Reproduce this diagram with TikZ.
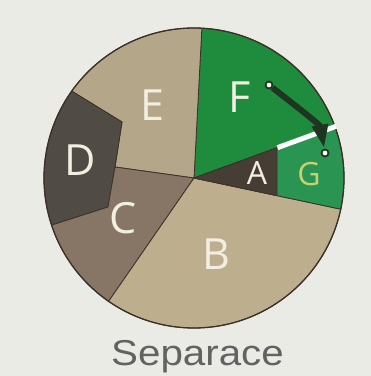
\documentclass[tikz,border=0pt]{standalone}
\usepackage{fontspec}
\newfontfamily\labfont{Open Sans}
\newfontfamily\sepfont{Liberation Sans}
\usetikzlibrary{arrows.meta}
\definecolor{bgc}{HTML}{EBEBE6}
\definecolor{colE}{HTML}{B4A688}
\definecolor{colB}{HTML}{BDAE8E}
\definecolor{colC}{HTML}{877565}
\definecolor{colD}{HTML}{504B44}
\definecolor{colA}{HTML}{463E34}
\definecolor{colF}{HTML}{1F8B3D}
\definecolor{colG}{HTML}{2A9452}
\definecolor{edgec}{HTML}{3B3128}
\definecolor{labc}{HTML}{F2EFE2}
\definecolor{glab}{HTML}{C8D070}
\definecolor{arrowc}{HTML}{1E3522}
\definecolor{sepc}{HTML}{626262}
\pgfdeclarelayer{front}
\pgfsetlayers{main,front}
\tikzset{
  region/.style={draw=edgec, line width=0.8pt, line join=round},
  outline/.style={draw=edgec, line width=1.3pt},
  lab/.style={text=labc, font=\labfont\fontsize{43}{43}\selectfont, inner sep=0pt},
  smalllab/.style={text=labc, font=\labfont\fontsize{32}{32}\selectfont, inner sep=0pt},
  dotnode/.style={circle, fill=white, draw=arrowc, line width=1.8pt, minimum size=7pt, inner sep=0pt},
  movearrow/.style={draw=arrowc, line width=6pt, -{Triangle[length=24pt,width=15pt]}}
}
\begin{document}
\begin{tikzpicture}[x=1pt,y=1pt]
\fill[bgc] (0,0) rectangle (371,376);
\useasboundingbox (0,0) rectangle (371,376);
\begin{scope}[shift={(194,198)}]
\def\R{150}
\filldraw[fill=colF, region] (0,0) -- (20:\R) arc[start angle=20,end angle=87,radius=\R] -- cycle;
\filldraw[fill=colE, region] (0,0) -- (87:\R) arc[start angle=87,end angle=144.6,radius=\R] -- (-72,56) -- (-79,11) -- cycle;
\filldraw[fill=colD, region] (144.6:\R) arc[start angle=144.6,end angle=198.3,radius=\R] -- (-86,-29) -- (-79,11) -- (-72,56) -- cycle;
\filldraw[fill=colC, region] (0,0) -- (-79,11) -- (-86,-29) -- (198.3:\R) arc[start angle=198.3,end angle=235.3,radius=\R] -- cycle;
\filldraw[fill=colB, region] (0,0) -- (235.3:\R) arc[start angle=235.3,end angle=348,radius=\R] -- cycle;
\filldraw[fill=colG, region] (0,0) -- (-12:\R) arc[start angle=-12,end angle=20,radius=\R] -- cycle;
\filldraw[fill=colA, region] (0,0) -- (83,30.2) -- (83,-17.6) -- cycle;
\draw[outline] (0,0) circle[radius=\R];
\begin{scope}
\clip (0,0) circle[radius=151];
\draw[white, line width=5pt] (83.4,30.3) -- (20:154);
\end{scope}
\end{scope}
\node[lab] (lE) at (152,271) {E};
\node[lab] (lD) at (80,216) {D};
\node[lab] (lC) at (123,158) {C};
\node[lab] (lB) at (216,122) {B};
\node[lab] (lF) at (240,279) {F};
\node[smalllab] (lA) at (257,202.5) {A};
\node[smalllab, text=glab] (lG) at (309,202) {G};
\begin{pgfonlayer}{front}
\node[dotnode] (fdot) at (269,291) {};
\node[dotnode] (gdot) at (325,223) {};
\end{pgfonlayer}
\draw[movearrow] (fdot) .. controls +(36,-28) and +(-5,28) .. (gdot);
\node[text=sepc, font=\sepfont\fontsize{36}{36}\selectfont, anchor=base, xscale=1.12, inner sep=0pt] (title) at (197.5,11) {Separace};
\end{tikzpicture}
\end{document}
